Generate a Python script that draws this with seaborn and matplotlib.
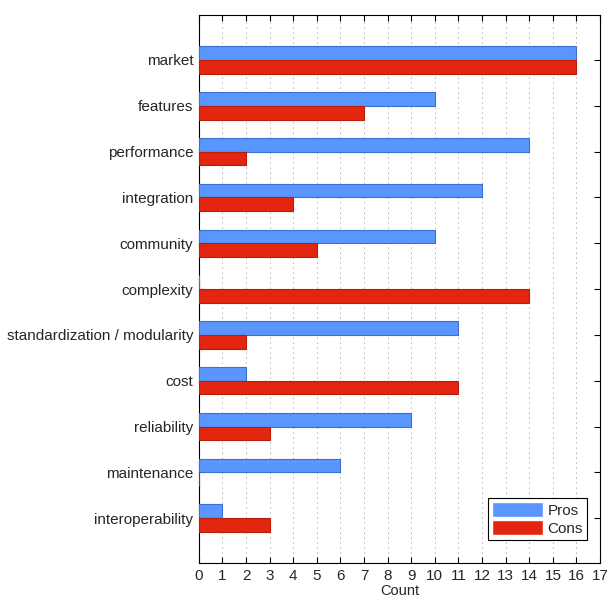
import pandas as pd
import seaborn as sns
import matplotlib.pyplot as plt

# Data
categories = ['market', 'features', 'performance', 'integration', 'community',
              'complexity', 'standardization / modularity', 'cost', 'reliability',
              'maintenance', 'interoperability']
pros = [16, 10, 14, 12, 10, 0, 11, 2, 9, 6, 1]
cons = [16, 7, 2, 4, 5, 14, 2, 11, 3, 0, 3]

df = pd.DataFrame({
    'Topic': categories * 2,
    'Count': pros + cons,
    'Kind': ['Pros'] * len(categories) + ['Cons'] * len(categories),
})

sns.set_style('white')
plt.rcParams['font.family'] = ['Liberation Sans', 'DejaVu Sans']

fig = plt.figure(figsize=(6.08, 6.01), dpi=100)
ax = fig.add_axes([0.327, 0.063, 0.660, 0.912])

palette = {'Pros': '#5a96ff', 'Cons': '#e3260f'}
sns.barplot(data=df, x='Count', y='Topic', hue='Kind', orient='h',
            palette=palette, width=0.6, gap=0, saturation=1,
            order=categories, hue_order=['Pros', 'Cons'], ax=ax, zorder=3)

# darker outlines like the original
edges = {'Pros': '#3c6fd0', 'Cons': '#b81d0c'}
for cont, kind in zip(ax.containers, ['Pros', 'Cons']):
    for bar in cont:
        bar.set_edgecolor(edges[kind])
        bar.set_linewidth(0.8)

ax.set_xlim(0, 17)
ax.set_ylim(10.98, -0.98)
ax.set_xticks(range(0, 18))
ax.set_xlabel('Count', fontsize=10.5, labelpad=1)
ax.set_ylabel('')

ax.grid(axis='x', color='#666666', linestyle=(0, (1, 5)), linewidth=0.6, zorder=0)
ax.grid(axis='y', visible=False)

for s in ax.spines.values():
    s.set_color('black')
    s.set_linewidth(0.8)

ax.tick_params(axis='x', direction='in', top=True, bottom=True, length=4,
               width=0.8, labelsize=11, pad=4, color='black')
ax.tick_params(axis='y', direction='in', left=True, right=True, length=4,
               width=0.8, labelsize=11, pad=4, color='black')

leg = ax.legend(loc='lower right', bbox_to_anchor=(0.968, 0.042), fontsize=11,
                frameon=True, fancybox=False, edgecolor='black', framealpha=1,
                handlelength=3.3, handleheight=1.1, borderpad=0.3,
                labelspacing=0.15, handletextpad=0.3, borderaxespad=0)
leg.get_frame().set_linewidth(0.8)

fig.savefig('out.png', dpi=100)
